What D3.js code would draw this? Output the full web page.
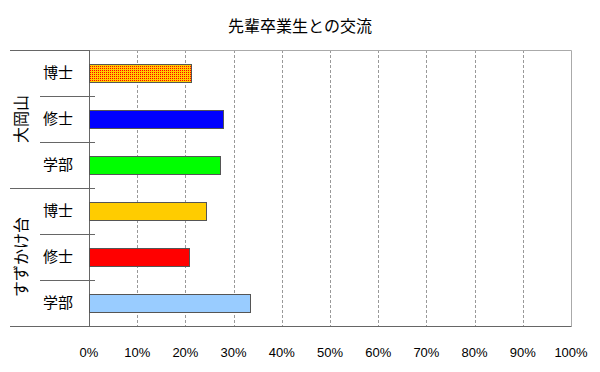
<!DOCTYPE html>
<html>
<head>
<meta charset="utf-8">
<script src="https://cdn.jsdelivr.net/npm/d3@7"></script>
<style>
  body { margin: 0; background: #fff; }
  text { font-family: "Noto Sans CJK JP", sans-serif; fill: #000; }
  .pct { font-family: "Liberation Sans", Arial, sans-serif; font-size: 13px; }
</style>
</head>
<body>
<div id="vis"></div>
<script>
var w = 600, h = 372;
var pl = 89, pr = 571, pt = 50, pb = 326;

var campus = ["大岡山", "すずかけ台"];
var degree = ["博士", "修士", "学部"];
// % per row, top to bottom (大岡山 博士/修士/学部, すずかけ台 博士/修士/学部)
var valores = [21.2, 27.7, 27.2, 24.3, 20.8, 33.4];
var colores = ["#ffcc00", "#0000ff", "#00ff00", "#ffcc00", "#ff0000", "#99ccff"];
var punteado = [true, false, false, false, false, false];
var ticks = [0, 10, 20, 30, 40, 50, 60, 70, 80, 90, 100];

var filas = [];
campus.forEach(function(c) { degree.forEach(function(d) { filas.push(c + "|" + d); }); });

var svg = d3.select("div#vis").append("svg")
  .attr("width", w)
  .attr("height", h);

var pat = svg.append("defs").append("pattern").attr("id", "dots")
  .attr("x", pl + 1).attr("y", 0)
  .attr("width", 2).attr("height", 2).attr("patternUnits", "userSpaceOnUse");
pat.append("rect").attr("width", 1).attr("height", 1).attr("fill", "#ff0000")
  .attr("shape-rendering", "crispEdges");

var x = d3.scaleLinear().domain([0, 100]).range([pl, pr]);
var y = d3.scaleBand().domain(filas).range([pt, pb])
  .paddingInner(0.6087).paddingOuter(0.3043);
var step = y.step();

// title
svg.append("text")
  .attr("x", 300).attr("y", 32)
  .attr("text-anchor", "middle")
  .style("font-size", "16px")
  .text("先輩卒業生との交流");

// grid
svg.selectAll("line.grid").data(ticks.slice(1, -1)).enter().append("line")
  .attr("class", "grid")
  .attr("x1", function(d) { return Math.round(x(d)) + 0.5; })
  .attr("x2", function(d) { return Math.round(x(d)) + 0.5; })
  .attr("y1", pt).attr("y2", pb)
  .style("stroke", "#999").style("stroke-dasharray", "3,2");

// frame
svg.append("path")
  .attr("d", "M" + (pl + 0.5) + "," + (pt + 0.5) + "H" + (pr + 0.5) + "V" + (pb + 0.5))
  .style("fill", "none").style("stroke", "#aaa");
svg.append("line")
  .attr("x1", pl + 0.5).attr("x2", pr + 0.5)
  .attr("y1", pb + 0.5).attr("y2", pb + 0.5)
  .style("stroke", "#666");
svg.append("line")
  .attr("x1", pl + 0.5).attr("x2", pl + 0.5)
  .attr("y1", pt).attr("y2", pb + 1)
  .style("stroke", "#666");

// separators on the left
var bordes = d3.range(filas.length + 1);
svg.selectAll("line.sep").data(bordes).enter().append("line")
  .attr("class", "sep")
  .attr("x1", function(i) { return i % 3 === 0 ? 10 : 40; })
  .attr("x2", function(i) { return (i === 0 || i === filas.length) ? pl : pl + 6; })
  .attr("y1", function(i) { return Math.round(pt + i * step) + 0.5; })
  .attr("y2", function(i) { return Math.round(pt + i * step) + 0.5; })
  .style("stroke", "#666");

// bars
svg.selectAll("rect.bar").data(valores).enter().append("rect")
  .attr("class", "bar")
  .attr("x", x(0) + 0.5)
  .attr("y", function(d, i) { return Math.round(y(filas[i])) + 0.5; })
  .attr("width", function(d) { return Math.round(x(d) - x(0)); })
  .attr("height", y.bandwidth())
  .attr("shape-rendering", "crispEdges")
  .style("fill", function(d, i) { return colores[i]; })
  .style("stroke", "#555")
  .style("stroke-width", 1);

// red dot texture on top of the yellow bar
svg.selectAll("rect.tex").data(valores.filter(function(d, i) { return punteado[i]; })).enter()
  .append("rect")
  .attr("class", "tex")
  .attr("x", x(0) + 1)
  .attr("y", function(d) { return Math.round(y(filas[valores.indexOf(d)])) + 1; })
  .attr("width", function(d) { return Math.round(x(d) - x(0)) - 1; })
  .attr("height", y.bandwidth() - 1)
  .attr("shape-rendering", "crispEdges")
  .style("fill", "url(#dots)");

// degree labels
svg.selectAll("text.deg").data(filas).enter().append("text")
  .attr("class", "deg")
  .attr("x", 58)
  .attr("y", function(d) { return y(d) + y.bandwidth() / 2 + 5; })
  .attr("text-anchor", "middle")
  .style("font-size", "15px")
  .text(function(d) { return d.split("|")[1]; });

// campus labels (vertical)
svg.selectAll("text.campus").data(campus).enter().append("text")
  .attr("class", "campus")
  .attr("transform", function(d, i) {
    return "translate(27," + (pt + (i * 3 + 1.5) * step) + ") rotate(-90)";
  })
  .attr("text-anchor", "middle")
  .style("font-size", "16px")
  .text(function(d) { return d; });

// x tick labels
svg.selectAll("text.pct").data(ticks).enter().append("text")
  .attr("class", "pct")
  .attr("x", function(d) { return x(d); })
  .attr("y", 357)
  .attr("text-anchor", "middle")
  .text(function(d) { return d + "%"; });
</script>
</body>
</html>
